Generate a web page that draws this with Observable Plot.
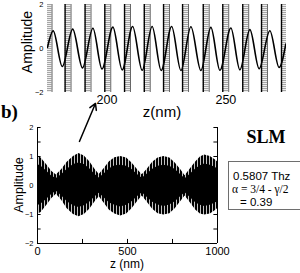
<!DOCTYPE html>
<html>
<head>
<meta charset="utf-8">
<script src="https://cdn.jsdelivr.net/npm/d3@7"></script>
<script src="https://cdn.jsdelivr.net/npm/@observablehq/plot@0.6"></script>
<style>
  html, body { margin: 0; padding: 0; background: #fff; }
  #fig { position: relative; width: 300px; height: 273px; overflow: hidden; background: #fff; }
  #fig > svg { position: absolute; left: 0; }
</style>
</head>
<body>
<div id="fig"></div>
<script>
// ---------- Top panel (zoom, 175–275 nm) ----------
const topTicksY = [-2, 0, 2];
const topTicksX = [200, 250];
// grey layers (nm)
const layerStart = [174.4, 182.4, 190.8, 199.1, 207.4, 215.7, 223.8, 231.8, 240.5, 248.7, 257.1, 265.0, 273.4];
const layerEnd   = [176.9, 184.9, 193.3, 201.6, 209.9, 218.2, 226.3, 234.3, 243.0, 251.2, 259.6, 267.5, 275.9];
// wave extrema
const waveZ   = [175.0, 177.4, 181.2, 185.6, 189.7, 194.1, 197.9, 202.5, 206.4, 210.8, 214.8, 219.0, 222.8,
                 227.2, 231.1, 235.3, 239.5, 243.7, 247.5, 252.1, 255.9, 260.1, 264.0, 268.5, 272.4, 275.2];
const waveAmp = [0.05, 0.80, -0.82, 0.88, -0.88, 0.92, -0.93, 0.97, -0.97, 1.00, -0.99, 1.00, -1.00,
                 1.00, -1.00, 0.99, -1.00, 0.96, -0.99, 0.93, -0.97, 0.86, -0.92, 0.81, -0.86, 0.20];

// ---------- Bottom panel (0–1000 nm) ----------
const envZ      = [0, 20, 50, 80, 105, 135, 165, 200, 230, 260, 290, 320, 343, 370, 400, 430, 462, 495,
                   525, 555, 582, 610, 640, 670, 702, 735, 765, 795, 820, 850, 880, 905, 928, 960, 985, 1000];
const envUpper  = [1.02, 0.95, 0.72, 0.48, 0.36, 0.55, 0.80, 1.00, 1.10, 1.02, 0.82, 0.55, 0.38, 0.58, 0.82, 0.96, 1.00, 0.95,
                   0.78, 0.55, 0.37, 0.56, 0.80, 0.95, 1.00, 0.95, 0.78, 0.55, 0.34, 0.58, 0.82, 0.98, 1.05, 1.00, 0.90, 0.82];
const envLower  = [-1.00, -0.93, -0.70, -0.45, -0.30, -0.52, -0.80, -1.00, -1.08, -1.00, -0.82, -0.56, -0.39, -0.60, -0.85, -0.98, -1.05, -0.98,
                   -0.80, -0.56, -0.36, -0.58, -0.82, -0.97, -1.02, -0.97, -0.80, -0.56, -0.36, -0.60, -0.85, -0.98, -1.02, -0.98, -0.88, -0.80];
const coreUpper = [0.72, 0.66, 0.50, 0.32, 0.24, 0.38, 0.56, 0.72, 0.78, 0.72, 0.58, 0.38, 0.26, 0.40, 0.58, 0.68, 0.70, 0.66,
                   0.55, 0.38, 0.25, 0.40, 0.56, 0.66, 0.70, 0.66, 0.55, 0.38, 0.23, 0.40, 0.58, 0.68, 0.74, 0.70, 0.63, 0.58];
const coreLower = [-0.70, -0.64, -0.48, -0.30, -0.20, -0.36, -0.56, -0.70, -0.76, -0.70, -0.58, -0.39, -0.27, -0.42, -0.60, -0.68, -0.74, -0.68,
                   -0.56, -0.39, -0.25, -0.41, -0.58, -0.67, -0.72, -0.67, -0.56, -0.39, -0.25, -0.42, -0.60, -0.68, -0.72, -0.68, -0.61, -0.56];
const bottomTicksX = [0, 500, 1000];
const bottomMinorX = [0, 250, 500, 750, 1000];
const bottomTicksY = [-2, -1, 0, 1, 2];
const bottomMinorY = [-2, -1.5, -1, -0.5, 0, 0.5, 1, 1.5, 2];
const arrowFrom = [233, 1.52];
const arrowTo   = [322, 2.83];

// ---------- build tables ----------
const layers = layerStart.map((s, i) => ({s, e: layerEnd[i]}));
const wave = waveZ.map((z, i) => ({z, a: waveAmp[i]}));
const env = envZ.map((z, i) => ({z, hi: envUpper[i], lo: envLower[i], chi: coreUpper[i], clo: coreLower[i]}));
const arrows = [{x1: arrowFrom[0], y1: arrowFrom[1], x2: arrowTo[0], y2: arrowTo[1]}];

const FONT = "'Liberation Sans', Arial, Helvetica, sans-serif";
const SERIF = "'Liberation Serif', 'Times New Roman', serif";
const NS = "http://www.w3.org/2000/svg";
function addPattern(svg, id, w, h, rects) {
  const defs = document.createElementNS(NS, "defs");
  const p = document.createElementNS(NS, "pattern");
  p.setAttribute("id", id); p.setAttribute("width", w); p.setAttribute("height", h);
  p.setAttribute("patternUnits", "userSpaceOnUse");
  for (const r of rects) {
    const el = document.createElementNS(NS, "rect");
    for (const k in r) el.setAttribute(k, r[k]);
    p.appendChild(el);
  }
  defs.appendChild(p);
  svg.insertBefore(defs, svg.firstChild);
}

const topPlot = Plot.plot({
  width: 300, height: 120,
  marginTop: 4, marginBottom: 28, marginLeft: 47, marginRight: 14,
  style: {background: "transparent", fontFamily: FONT, color: "#000"},
  x: {domain: [175, 275.5]},
  y: {domain: [-2, 2]},
  marks: [
    Plot.rect(layers, {x1: "s", x2: "e", y1: -2, y2: 2, fill: "url(#hstripes)", clip: true}),
    Plot.ruleX(layers, {x: "s", y1: -2, y2: 2, stroke: "#000", strokeWidth: 1.4, clip: true}),
    Plot.ruleX(layers, {x: "e", y1: -2, y2: 2, stroke: "#666", strokeWidth: 1, clip: true}),
    Plot.line(wave, {x: "z", y: "a", curve: "monotone-x", stroke: "#000", strokeWidth: 1.6, clip: true}),
    Plot.axisY(topTicksY, {tickSize: 0, tickPadding: 4, fontSize: 7.5, label: null}),
    Plot.axisX(topTicksX, {tickSize: 0, tickPadding: 3, fontSize: 12.5, label: null, tickFormat: d => String(d)})
  ]
});
addPattern(topPlot, "hstripes", 4, 2, [
  {x: 0, y: 0, width: 4, height: 1, fill: "#a6a6a6"},
  {x: 0, y: 1, width: 4, height: 1, fill: "#efefef"}
]);
topPlot.style.top = "0px";

const bottomPlot = Plot.plot({
  width: 300, height: 175,
  marginTop: 29, marginBottom: 30, marginLeft: 37, marginRight: 83,
  style: {background: "transparent", fontFamily: FONT, color: "#000"},
  x: {domain: [0, 1000]},
  y: {domain: [-2, 2]},
  marks: [
    Plot.areaY(env, {x: "z", y1: "lo", y2: "hi", fill: "url(#vstripes)"}),
    Plot.areaY(env, {x: "z", y1: "clo", y2: "chi", fill: "#000"}),
    Plot.ruleX([0, 1000], {y1: -2, y2: 2, stroke: "#000", strokeWidth: 1}),
    Plot.ruleY([-2], {x1: 0, x2: 1000, stroke: "#000", strokeWidth: 1}),
    Plot.ruleY(bottomMinorY, {x1: 0, x2: 20, stroke: "#000"}),
    Plot.ruleY(bottomMinorY, {x1: 980, x2: 1000, stroke: "#000"}),
    Plot.ruleX(bottomMinorX, {y1: -2, y2: -1.86, stroke: "#000"}),
    Plot.axisY(bottomTicksY, {tickSize: 0, tickPadding: 4, fontSize: 7.5, label: null}),
    Plot.axisX(bottomTicksX, {tickSize: 0, tickPadding: 3.5, fontSize: 11, label: null, tickFormat: d => String(d)}),
    Plot.arrow(arrows, {x1: "x1", y1: "y1", x2: "x2", y2: "y2", stroke: "#000", strokeWidth: 1.5, headLength: 7})
  ]
});
addPattern(bottomPlot, "vstripes", 3, 4, [
  {x: 0, y: 0, width: 2, height: 4, fill: "#000"},
  {x: 2, y: 0, width: 1, height: 4, fill: "#c4c4c4"}
]);
bottomPlot.style.top = "98px";

// ---------- annotations overlay ----------
const overlay = `
<svg xmlns="${NS}" width="300" height="273" viewBox="0 0 300 273" style="top:0;left:0;position:absolute;overflow:visible">
  <g font-family="${FONT}" fill="#000">
    <text transform="translate(31.5,42) rotate(-90)" text-anchor="middle" font-size="14">Amplitude</text>
    <text x="162" y="116.5" text-anchor="middle" font-size="15">z(nm)</text>
    <text transform="translate(22.5,185) rotate(-90)" text-anchor="middle" font-size="12.5">Amplitude</text>
    <text x="127" y="268" text-anchor="middle" font-size="12">z (nm)</text>
  </g>
  <text x="1" y="118" font-family="${SERIF}" font-weight="bold" font-size="19">b)</text>
  <text x="266" y="143" text-anchor="middle" font-family="${SERIF}" font-weight="bold" font-size="18">SLM</text>
  <rect x="228.5" y="161.5" width="80" height="48" fill="#fff" stroke="#6e6e6e" stroke-width="1"/>
  <text x="233" y="179.5" font-family="${FONT}" font-size="11.5">0.5807 Thz</text>
  <text x="232" y="192.5" font-family="${SERIF}" font-size="11.5">α = 3/4 - γ/2</text>
  <text x="240" y="205.5" font-family="${FONT}" font-size="11.5">= 0.39</text>
</svg>`;

const fig = document.getElementById("fig");
fig.appendChild(topPlot);
fig.appendChild(bottomPlot);
fig.insertAdjacentHTML("beforeend", overlay);
</script>
</body>
</html>
